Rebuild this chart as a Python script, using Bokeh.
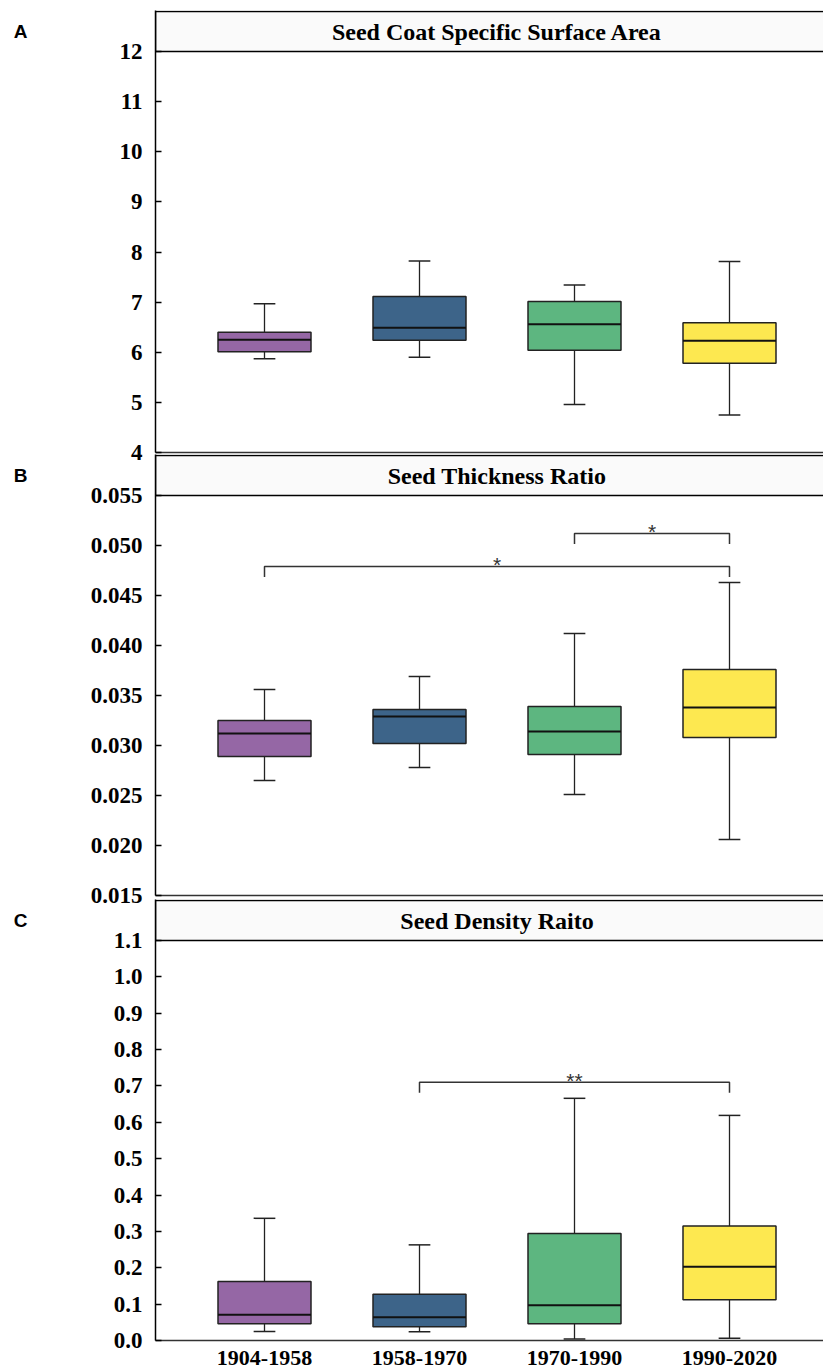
import numpy as np
from bokeh.plotting import figure
from bokeh.layouts import column, row
from bokeh.models import ColumnDataSource, FixedTicker, Range1d, Label, PrintfTickFormatter
from bokeh.embed import file_html
from bokeh.resources import INLINE
from bokeh.core.properties import value

# ---------------- data ----------------
categories = ["1904-1958", "1958-1970", "1970-1990", "1990-2020"]
colors = ["#9567A5", "#3D6489", "#5DB680", "#FDE850"]

# Panel A: Seed Coat Specific Surface Area
a_min = [5.87, 5.90, 4.96, 4.75]
a_q1 = [6.01, 6.24, 6.04, 5.78]
a_med = [6.25, 6.49, 6.56, 6.23]
a_q3 = [6.40, 7.11, 7.01, 6.59]
a_max = [6.97, 7.82, 7.34, 7.81]
a_ticks = [4, 5, 6, 7, 8, 9, 10, 11, 12]

# Panel B: Seed Thickness Ratio
b_min = [0.0265, 0.0278, 0.0251, 0.0206]
b_q1 = [0.0289, 0.0302, 0.0291, 0.0308]
b_med = [0.0312, 0.0329, 0.0314, 0.0338]
b_q3 = [0.0325, 0.0336, 0.0339, 0.0376]
b_max = [0.0356, 0.0369, 0.0412, 0.0463]
b_ticks = [0.015, 0.020, 0.025, 0.030, 0.035, 0.040, 0.045, 0.050, 0.055]
b_brackets = [(1, 4, 0.0479, "*"), (3, 4, 0.0512, "*")]

# Panel C: Seed Density Raito
c_min = [0.025, 0.024, 0.004, 0.006]
c_q1 = [0.046, 0.038, 0.046, 0.112]
c_med = [0.071, 0.064, 0.097, 0.203]
c_q3 = [0.162, 0.127, 0.294, 0.315]
c_max = [0.336, 0.263, 0.666, 0.619]
c_ticks = [0.0, 0.1, 0.2, 0.3, 0.4, 0.5, 0.6, 0.7, 0.8, 0.9, 1.0, 1.1]
c_brackets = [(2, 4, 0.710, "**")]

titles = ["Seed Coat Specific Surface Area", "Seed Thickness Ratio", "Seed Density Raito"]
letters = ["A", "B", "C"]

# ---------------- layout constants ----------------
PX = 155.0                      # pixels per category
X0 = 1 - 109 / PX
X1 = 4 + 94 / PX
STRIP = 40                      # strip height in px
SERIF = "Liberation Serif"
LETTER_W = 40


def make_panel(letter, title, mins, q1, med, q3, maxs, ticks, fmt, k, brackets,
               show_x, frame_h, mb_top, mb_bottom, margin_top):
    lo, hi = ticks[0], ticks[-1]
    y_end = hi + (STRIP + 1) / k
    yr = Range1d(lo, y_end)
    p = figure(frame_width=668, frame_height=frame_h,
               min_border_left=155 - LETTER_W, min_border_right=0,
               min_border_top=mb_top, min_border_bottom=mb_bottom,
               x_range=Range1d(X0, X1), y_range=yr,
               output_backend="svg", toolbar_location=None, tools="")
    p.outline_line_color = None
    p.grid.visible = False
    p.background_fill_color = "white"
    p.border_fill_color = None

    xs = np.arange(1, len(categories) + 1)
    src = ColumnDataSource(dict(x=xs, lo=mins, q1=q1, med=med, q3=q3, hi=maxs, color=colors,
                                xl=xs - 0.3, xr=xs + 0.3, cl=xs - 0.07, cr=xs + 0.07))

    # strip
    p.quad(left=X0, right=X1 + 1, bottom=hi, top=hi + STRIP / k,
           fill_color="#FAFAFA", line_color="black", line_width=1.5)

    # whiskers
    p.segment(x0="x", y0="lo", x1="x", y1="hi", source=src, line_color="#222", line_width=1.3)
    p.segment(x0="cl", y0="hi", x1="cr", y1="hi", source=src, line_color="#222", line_width=1.5)
    p.segment(x0="cl", y0="lo", x1="cr", y1="lo", source=src, line_color="#222", line_width=1.5)
    # boxes
    p.vbar(x="x", width=0.6, bottom="q1", top="q3", source=src, fill_color="color",
           line_color="#222", line_width=1.5)
    p.segment(x0="xl", y0="med", x1="xr", y1="med", source=src, line_color="#111", line_width=2)

    # significance brackets
    leg = 10.5 / k
    for (i0, i1, yb, star) in brackets:
        p.line(x=[i0, i0, i1, i1], y=[yb - leg, yb, yb, yb - leg], line_color="#333", line_width=1.5)
        p.text(x=[(i0 + i1) / 2], y=[yb], text=[star], text_align="center",
               text_baseline="alphabetic", y_offset=-2,
               text_font=value("Liberation Sans"), text_font_size="21px", text_color="#333")

    # title in strip
    p.add_layout(Label(x=2.5, y=hi + STRIP / 2 / k, text=title,
                       text_align="center", text_baseline="middle", text_font=SERIF,
                       text_font_style="bold", text_font_size="24px", text_color="black"))

    # y axis
    yax = p.yaxis[0]
    yax.ticker = FixedTicker(ticks=ticks)
    yax.formatter = PrintfTickFormatter(format=fmt)
    yax.axis_line_color = "black"
    yax.axis_line_width = 1.5
    yax.major_tick_line_color = "black"
    yax.major_tick_line_width = 1.5
    yax.major_tick_in = 6
    yax.major_tick_out = 0
    yax.minor_tick_line_color = None
    yax.major_label_standoff = 13
    yax.major_label_text_font = SERIF
    yax.major_label_text_font_style = "bold"
    yax.major_label_text_font_size = "23px"
    yax.major_label_text_color = "black"

    # x axis
    xax = p.xaxis[0]
    xax.axis_line_color = "#333"
    xax.axis_line_width = 1.5
    xax.major_tick_line_color = None
    xax.minor_tick_line_color = None
    if show_x:
        xax.ticker = FixedTicker(ticks=list(xs))
        xax.major_label_overrides = {int(i): c for i, c in zip(xs, categories)}
        xax.major_label_text_font = SERIF
        xax.major_label_text_font_style = "bold"
        xax.major_label_text_color = "black"
        xax.major_label_text_font_size = "22px"
        xax.major_label_standoff = 4
    else:
        xax.ticker = FixedTicker(ticks=[])
        xax.major_label_standoff = 0

    # panel letter, in a narrow companion plot sharing the y range
    lf = figure(width=LETTER_W, frame_height=frame_h, min_border_left=0, min_border_right=0,
                min_border_top=mb_top, min_border_bottom=mb_bottom,
                x_range=Range1d(0, LETTER_W), y_range=yr,
                x_axis_location=None, y_axis_location=None,
                output_backend="svg", toolbar_location=None, tools="")
    lf.outline_line_color = None
    lf.grid.visible = False
    lf.background_fill_color = None
    lf.border_fill_color = None
    lf.text(x=[LETTER_W / 2], y=[hi + STRIP / 2 / k], text=[letter], text_align="center",
            text_baseline="middle", text_font=value("Liberation Sans"), text_font_style="bold",
            text_font_size="19px", text_color="black")

    r = row(lf, p, spacing=0)
    if margin_top:
        r.margin = (margin_top, 0, 0, 0)
    return r


rA = make_panel("A", titles[0], a_min, a_q1, a_med, a_q3, a_max, a_ticks, "%d",
                401 / 8, [], False, 442, 10, 14, 0)
rB = make_panel("B", titles[1], b_min, b_q1, b_med, b_q3, b_max, b_ticks, "%.3f",
                400 / 0.04, b_brackets, False, 441, 2, 14, -14)
rC = make_panel("C", titles[2], c_min, c_q1, c_med, c_q3, c_max, c_ticks, "%.1f",
                400 / 1.1, c_brackets, True, 441, 2, 29, -12)

layout = column(rA, rB, rC, spacing=0)
open("out.html", "w").write(file_html(layout, INLINE))
